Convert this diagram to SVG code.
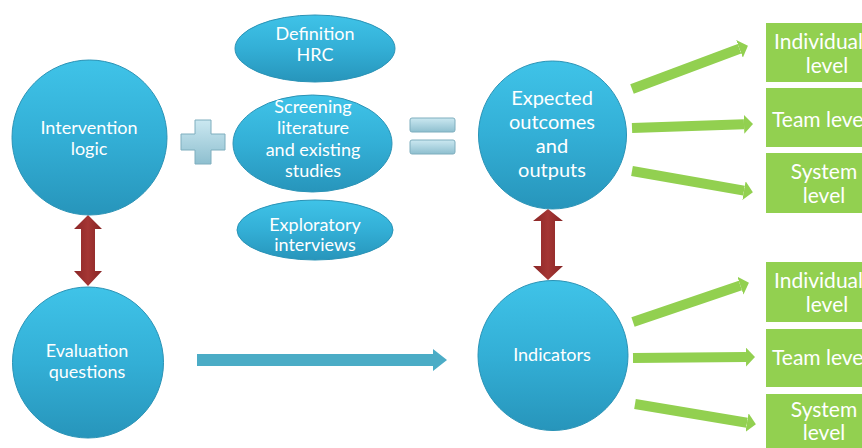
<svg xmlns="http://www.w3.org/2000/svg" width="862" height="448" viewBox="0 0 862 448">
<defs>
  <linearGradient id="blueG" x1="0" y1="0" x2="0" y2="1">
    <stop offset="0" stop-color="#3FC3E8"/>
    <stop offset="0.5" stop-color="#33AFD6"/>
    <stop offset="1" stop-color="#2795BB"/>
  </linearGradient>
  <linearGradient id="redG" x1="0" y1="0" x2="1" y2="0">
    <stop offset="0" stop-color="#8A2626"/>
    <stop offset="0.5" stop-color="#A53634"/>
    <stop offset="1" stop-color="#862424"/>
  </linearGradient>
  <linearGradient id="opG" x1="0" y1="0" x2="0" y2="1">
    <stop offset="0" stop-color="#CBE8F1"/>
    <stop offset="1" stop-color="#8EBFCF"/>
  </linearGradient>
  <marker id="gHead" markerUnits="userSpaceOnUse" markerWidth="10" markerHeight="20" refX="0" refY="9.5" orient="auto" viewBox="0 0 10 20">
    <path d="M0,0 L9,9.5 L0,19 Z" fill="#92D050"/>
  </marker>
  <style>
    .bub { fill: url(#blueG); stroke: #2A93B6; stroke-width: 1; }
    .t { font-family: Lato, "Open Sans", sans-serif; font-size: 18px; fill: #FFFFFF; text-anchor: middle; }
    .tl { font-size: 20px; }
    .tg { font-size: 21px; }
    .ts { text-anchor: start; }
    .box { fill: #92D050; }
    .garrow { stroke: #92D050; stroke-width: 10; fill: none; marker-end: url(#gHead); }
    .op { fill: url(#opG); stroke: #7FAEBE; stroke-width: 1; }
  </style>
</defs>
<rect width="862" height="448" fill="#FFFFFF"/>

<g id="connectors">
  <path d="M88,215 L102,229 L95,229 L95,271 L102,271 L88,286 L74,271 L81,271 L81,229 L74,229 Z" fill="url(#redG)"/>
  <path d="M548,209 L563,221 L555,221 L555,266 L563,266 L548,280 L533,266 L541,266 L541,221 L533,221 Z" fill="url(#redG)"/>
  <path d="M197,354 L433,354 L433,349 L447,360 L433,371 L433,366 L197,366 Z" fill="#4BACC6"/>
  <line class="garrow" x1="632" y1="89" x2="739.5" y2="48.8"/>
  <line class="garrow" x1="632" y1="128" x2="744" y2="124.3"/>
  <line class="garrow" x1="632" y1="171" x2="744" y2="190.6"/>
  <line class="garrow" x1="633" y1="322" x2="740.4" y2="285.6"/>
  <line class="garrow" x1="633" y1="358" x2="746" y2="357.1"/>
  <line class="garrow" x1="635" y1="404" x2="747" y2="422.7"/>
</g>

<g id="plus">
  <path class="op" d="M195,120 L211,120 L211,134 L225,134 L225,150 L211,150 L211,164 L195,164 L195,150 L181,150 L181,134 L195,134 Z"/>
</g>
<g id="equals">
  <rect class="op" x="410" y="118" width="45" height="14" rx="2"/>
  <rect class="op" x="410" y="140" width="45" height="14" rx="2"/>
</g>

<g id="intervention">
  <circle class="bub" cx="89.5" cy="137.5" r="77.5"/>
  <text class="t" x="89" y="134">Intervention</text>
  <text class="t" x="89" y="155">logic</text>
</g>
<g id="evaluation">
  <circle class="bub" cx="88" cy="362.5" r="75.5"/>
  <text class="t" x="87" y="357">Evaluation</text>
  <text class="t" x="87" y="378">questions</text>
</g>
<g id="definition">
  <ellipse class="bub" cx="315" cy="48.5" rx="80" ry="33.5"/>
  <text class="t" x="315" y="40">Definition</text>
  <text class="t" x="315" y="61">HRC</text>
</g>
<g id="screening">
  <ellipse class="bub" cx="312.5" cy="143.5" rx="79.5" ry="48.5"/>
  <text class="t" x="313" y="113">Screening</text>
  <text class="t" x="313" y="134">literature</text>
  <text class="t" x="313" y="156">and existing</text>
  <text class="t" x="313" y="177">studies</text>
</g>
<g id="exploratory">
  <ellipse class="bub" cx="315" cy="230" rx="78" ry="30"/>
  <text class="t" x="315" y="231">Exploratory</text>
  <text class="t" x="315" y="251">interviews</text>
</g>
<g id="expected">
  <circle class="bub" cx="552.5" cy="135" r="74"/>
  <text class="t tl" x="552" y="105">Expected</text>
  <text class="t tl" x="552" y="129">outcomes</text>
  <text class="t tl" x="552" y="153">and</text>
  <text class="t tl" x="552" y="177">outputs</text>
</g>
<g id="indicators">
  <circle class="bub" cx="553" cy="355.5" r="75"/>
  <text class="t" x="552" y="361">Indicators</text>
</g>

<g id="box-ind-1">
  <rect class="box" x="766" y="23" width="125" height="59"/>
  <text class="t tg ts" x="774" y="49">Individual</text>
  <text class="t tg" x="827" y="73">level</text>
</g>
<g id="box-team-1">
  <rect class="box" x="766" y="88" width="125" height="59"/>
  <text class="t tg ts" x="772" y="127">Team level</text>
</g>
<g id="box-sys-1">
  <rect class="box" x="766" y="153" width="125" height="60"/>
  <text class="t tg" x="824" y="179">System</text>
  <text class="t tg" x="824" y="203">level</text>
</g>
<g id="box-ind-2">
  <rect class="box" x="766" y="262" width="125" height="60"/>
  <text class="t tg ts" x="774" y="288">Individual</text>
  <text class="t tg" x="827" y="312">level</text>
</g>
<g id="box-team-2">
  <rect class="box" x="766" y="329" width="125" height="58"/>
  <text class="t tg ts" x="772" y="365">Team level</text>
</g>
<g id="box-sys-2">
  <rect class="box" x="766" y="394" width="125" height="60"/>
  <text class="t tg" x="824" y="417">System</text>
  <text class="t tg" x="824" y="440">level</text>
</g>
</svg>
